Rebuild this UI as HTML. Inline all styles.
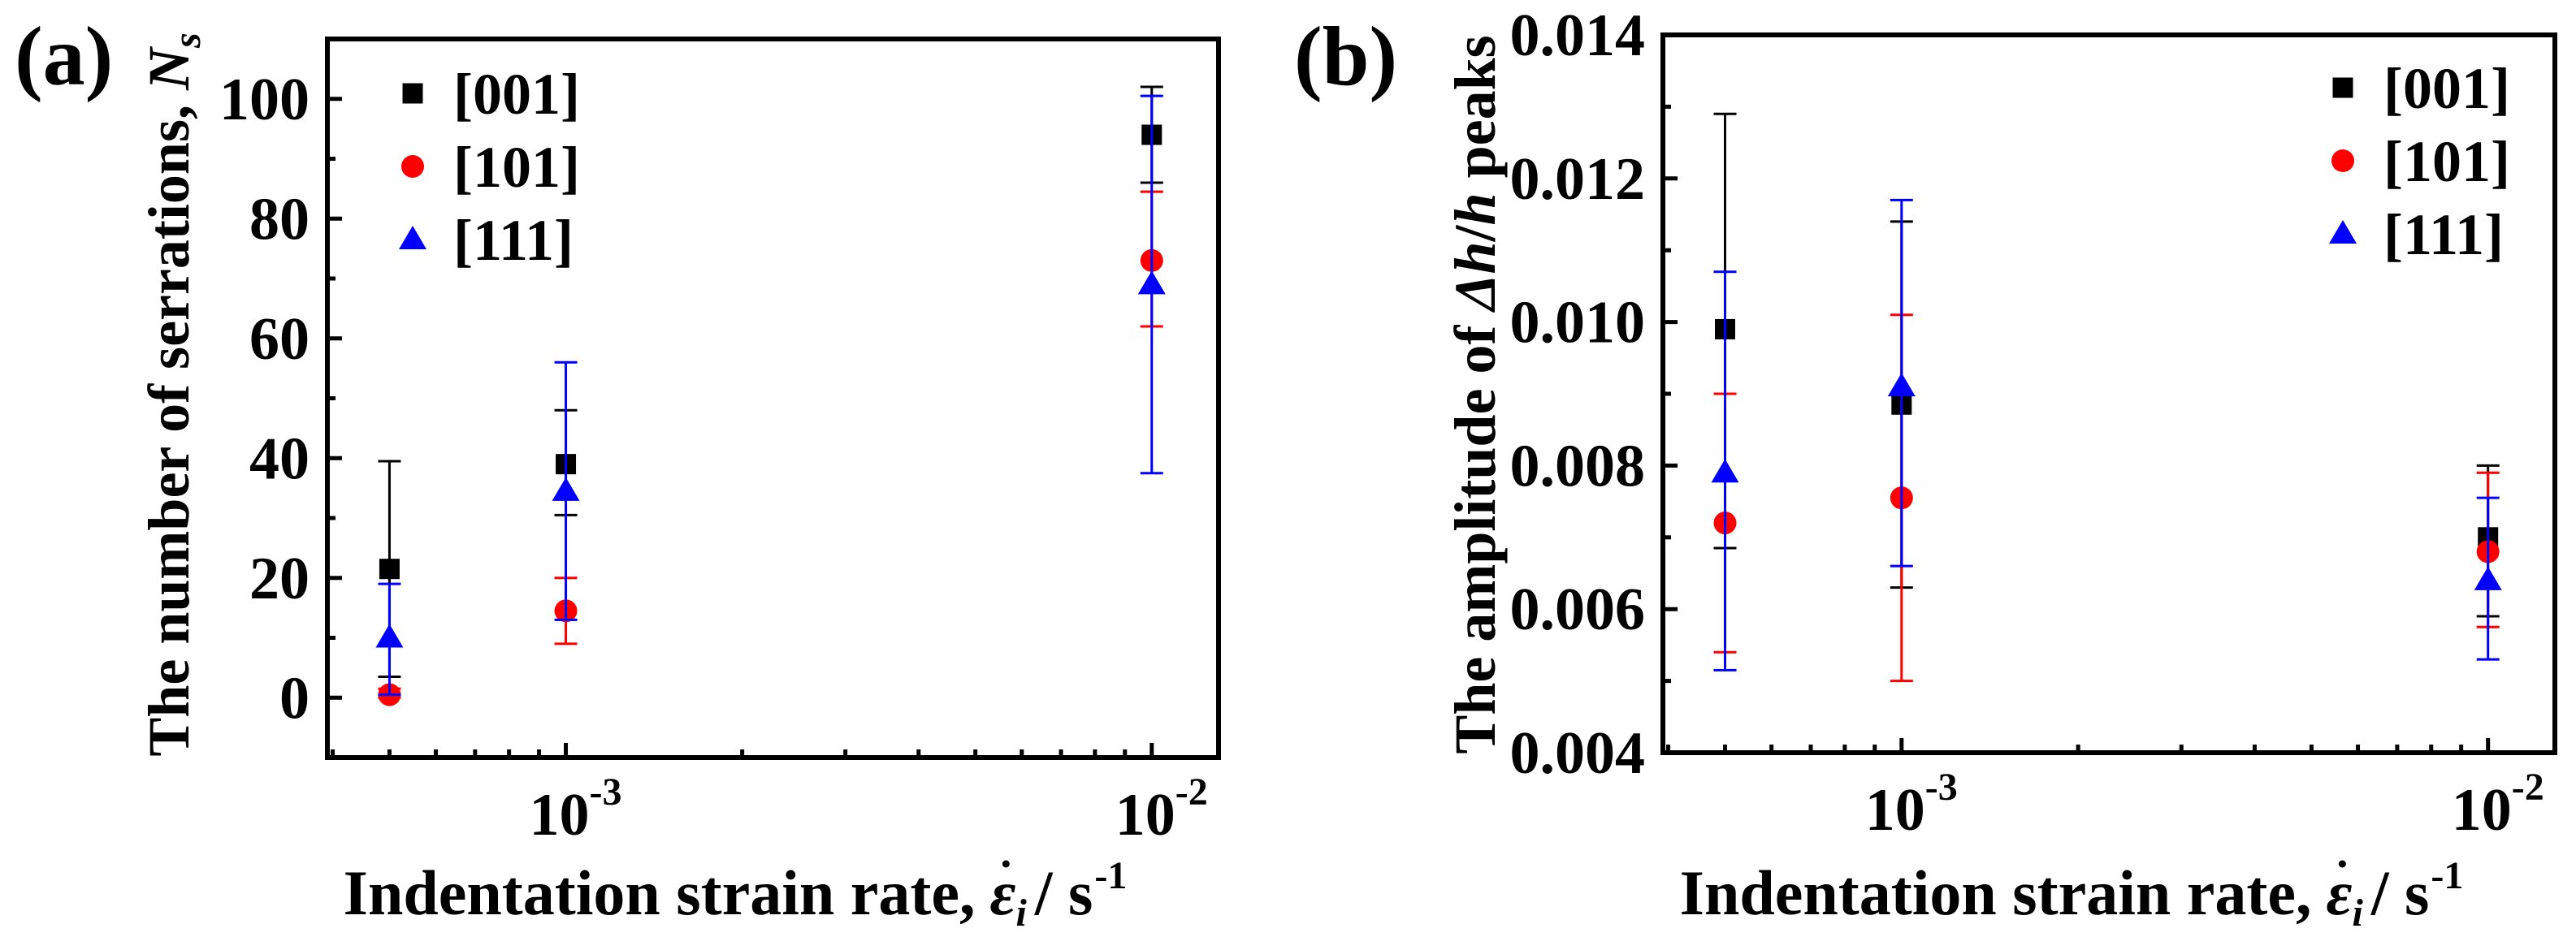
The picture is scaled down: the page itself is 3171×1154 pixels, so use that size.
<!DOCTYPE html>
<html><head><meta charset="utf-8">
<style>
html,body{margin:0;padding:0;background:#fff;}
svg{display:block;}
text{font-family:"Liberation Serif","Times New Roman",serif;font-weight:bold;fill:#000;}
</style></head>
<body>
<svg id="fig" width="3171" height="1154" viewBox="0 0 3171 1154" xmlns="http://www.w3.org/2000/svg">
  <text x="18" y="104" font-size="104">(a)</text>
  <text x="1593" y="104" font-size="104">(b)</text>
  <text transform="translate(232,486) rotate(-90)" text-anchor="middle" font-size="72">The number of serrations, <tspan font-style="italic">N</tspan><tspan font-style="italic" font-size="48" dy="14">s</tspan></text>
  <text transform="translate(1840,486) rotate(-90)" text-anchor="middle" font-size="72">The amplitude of <tspan font-style="italic">Δh</tspan>/<tspan font-style="italic">h</tspan> peaks</text>
  <g id="xt-a">
    <text class="p1" y="1126" font-size="78">Indentation strain rate,</text>
    <text class="p2" y="1126" font-size="78" font-style="italic" font-weight="normal">ε</text>
    <text class="p3" y="1140" font-size="48" font-style="italic" font-weight="normal">i</text>
    <text class="p4" y="1126" font-size="78">/ s</text>
    <text class="p5" y="1094" font-size="48">-1</text>
  </g>
  <g id="xt-b">
    <text class="p1" y="1126" font-size="78">Indentation strain rate,</text>
    <text class="p2" y="1126" font-size="78" font-style="italic" font-weight="normal">ε</text>
    <text class="p3" y="1140" font-size="48" font-style="italic" font-weight="normal">i</text>
    <text class="p4" y="1126" font-size="78">/ s</text>
    <text class="p5" y="1094" font-size="48">-1</text>
  </g>
</svg>
<script>
// ---------- data ----------
const rates = [5e-4, 1e-3, 1e-2];
const seriesNames = ["[001]", "[101]", "[111]"];
const seriesColors = ["#000000", "#ff0000", "#0000ff"];
const seriesShapes = ["square", "circle", "triangle"];

// panel (a): number of serrations
const nsVal001 = [21.5, 39, 94];
const nsHi001  = [39.5, 48, 102];
const nsLo001  = [3.5, 30.5, 86];
const nsVal101 = [0.5, 14.5, 73];
const nsHi101  = [1.5, 20, 84.5];
const nsLo101  = [0, 9, 62];
const nsVal111 = [10, 34.5, 69];
const nsHi111  = [19, 56, 100.5];
const nsLo111  = [0.5, 13, 37.5];
const yTicksA = [0, 20, 40, 60, 80, 100];

// panel (b): amplitude of dh/h peaks
const ampVal001 = [0.0099, 0.00885, 0.0070];
const ampHi001  = [0.0129, 0.0114, 0.0080];
const ampLo001  = [0.00685, 0.0063, 0.0059];
const ampVal101 = [0.0072, 0.00755, 0.0068];
const ampHi101  = [0.0090, 0.0101, 0.0079];
const ampLo101  = [0.0054, 0.0050, 0.00575];
const ampVal111 = [0.0079, 0.0091, 0.0064];
const ampHi111  = [0.0107, 0.0117, 0.00755];
const ampLo111  = [0.00515, 0.0066, 0.0053];
const yTicksB = [0.004, 0.006, 0.008, 0.010, 0.012, 0.014];
const yTickLabelsB = ["0.004", "0.006", "0.008", "0.010", "0.012", "0.014"];
const xMajorTicks = [1e-3, 1e-2];
const xMajorExp = ["-3", "-2"];

const NS = "http://www.w3.org/2000/svg";
const svg = document.getElementById('fig');
function el(tag, attrs, parent) {
  const e = document.createElementNS(NS, tag);
  for (const k in attrs) e.setAttribute(k, attrs[k]);
  (parent || svg).appendChild(e);
  return e;
}

// lay out x-axis titles piece by piece
function layoutTitle(id, center) {
  const g = document.getElementById(id);
  const parts = ['p1','p2','p3','p4','p5'].map(c => g.querySelector('.' + c));
  const gaps = [18, 0, 10, 2, 0];
  const widths = parts.map(p => p.getComputedTextLength());
  let total = 0;
  widths.forEach((w, i) => total += w + gaps[i]);
  let x = center - total / 2;
  let epsX = 0, epsW = 0;
  parts.forEach((p, i) => {
    p.setAttribute('x', x);
    if (i === 1) { epsX = x; epsW = widths[i]; }
    x += widths[i] + gaps[i];
  });
  const d = el('circle', {cx: epsX + epsW * 0.62, cy: 1064, r: 4.5, fill: '#000'}, g);
  
  
}
layoutTitle('xt-a', 905);
layoutTitle('xt-b', 2550);

function makePanel(cfg) {
  const g = el('g', {});
  
  
  const L = cfg.left, R = cfg.right, T = cfg.top, B = cfg.bottom;
  const lx0 = -3.407, lx1 = -1.886;
  const xs = v => L + (Math.log10(v) - lx0) / (lx1 - lx0) * (R - L);
  const ys = v => B - (v - cfg.ymin) / (cfg.ymax - cfg.ymin) * (B - T);

  const minorX = [];
  for (let d = -4; d <= -2; d++) for (let m = 1; m <= 9; m++) minorX.push(m * Math.pow(10, d));
  minorX.forEach(v => {
    const lv = Math.log10(v);
    if (lv < lx0 || lv > lx1) return;
    const major = Math.abs(lv - Math.round(lv)) < 1e-9;
    const x = xs(v);
    const t = el('line', {x1: x, x2: x, y1: B, y2: B - (major ? 18 : 10), stroke: '#000', 'stroke-width': 5}, g);
    
    
  });
  xMajorTicks.forEach((v, i) => {
    const x = xs(v);
    const t = el('text', {x: x - 8, y: B + 95, 'font-size': 74, 'text-anchor': 'middle'}, g);
    
    
    t.textContent = '10';
    const s = el('text', {x: x + 29, y: B + 58, 'font-size': 48, 'text-anchor': 'start'}, g);
    
    
    s.textContent = xMajorExp[i];
  });
  cfg.yTicks.forEach((v, i) => {
    const y = ys(v);
    const t = el('line', {x1: L, x2: L + 18, y1: y, y2: y, stroke: '#000', 'stroke-width': 5}, g);
    
    
    if (i < cfg.yTicks.length - 1) {
      const ym = ys((v + cfg.yTicks[i + 1]) / 2);
      const m = el('line', {x1: L, x2: L + 10, y1: ym, y2: ym, stroke: '#000', 'stroke-width': 5}, g);
      
      
    }
    const lb = el('text', {x: L - 22, y: y + 25, 'font-size': 74, 'text-anchor': 'end'}, g);
    
    
    lb.textContent = cfg.yTickLabels[i];
  });

  cfg.series.forEach((s, si) => {
    const sg = el('g', {}, g);
    
    
    const c = seriesColors[si];
    rates.forEach((r, i) => {
      const x = xs(r), yh = ys(s.hi[i]), yl = ys(s.lo[i]);
      const eb = el('path', {d: `M${x},${yh}V${yl}M${x-14},${yh}H${x+14}M${x-14},${yl}H${x+14}`, stroke: c, 'stroke-width': 3, fill: 'none'}, sg);
      
      
    });
    rates.forEach((r, i) => {
      const m = drawMarker(sg, seriesShapes[si], xs(r), ys(s.val[i]), c);
      
      
    });
  });

  const lg = el('g', {}, g);
  
  
  seriesNames.forEach((n, si) => {
    const y = cfg.legY + si * 90;
    const m = drawMarker(lg, seriesShapes[si], cfg.legX, y, seriesColors[si]);
    
    
    const t = el('text', {x: cfg.legX + 50, y: y + 25, 'font-size': 72}, lg);
    
    
    t.textContent = n;
  });

  const fr = el('rect', {x: L, y: T, width: R - L, height: B - T, fill: 'none', stroke: '#000', 'stroke-width': 6}, g);
  
  
}

function drawMarker(parent, shape, x, y, c) {
  if (shape === 'square') return el('rect', {x: x - 12.5, y: y - 12.5, width: 25, height: 25, fill: c}, parent);
  if (shape === 'circle') return el('circle', {cx: x, cy: y, r: 14, fill: c}, parent);
  return el('polygon', {points: `${x},${y-17} ${x+17},${y+12} ${x-17},${y+12}`, fill: c}, parent);
}

makePanel({
  name: 'panel-a', left: 403, right: 1500, top: 48, bottom: 933, ymin: -10, ymax: 110,
  yTicks: yTicksA, yTickLabels: yTicksA.map(String),
  legX: 508, legY: 115,
  series: [
    {val: nsVal001, hi: nsHi001, lo: nsLo001},
    {val: nsVal101, hi: nsHi101, lo: nsLo101},
    {val: nsVal111, hi: nsHi111, lo: nsLo111}
  ]
});
makePanel({
  name: 'panel-b', left: 2047, right: 3145, top: 43, bottom: 927, ymin: 0.004, ymax: 0.014,
  yTicks: yTicksB, yTickLabels: yTickLabelsB,
  legX: 2884, legY: 108,
  series: [
    {val: ampVal001, hi: ampHi001, lo: ampLo001},
    {val: ampVal101, hi: ampHi101, lo: ampLo101},
    {val: ampVal111, hi: ampHi111, lo: ampLo111}
  ]
});
</script>
</body></html>
